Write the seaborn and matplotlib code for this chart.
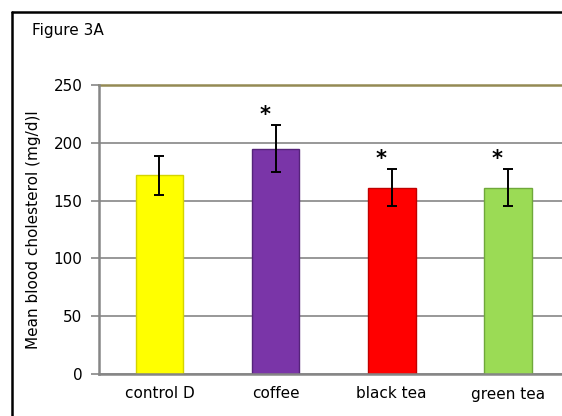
import matplotlib
matplotlib.use("Agg")
import matplotlib.pyplot as plt
import seaborn as sns
import pandas as pd
from matplotlib.lines import Line2D

categories = ["control D", "coffee", "black tea", "green tea"]
means = [172, 195, 161, 161]
errors = [17, 20, 16, 16]
significant = [False, True, True, True]
colors = ["#FFFF00", "#7A35A8", "#FF0000", "#9BDB55"]
edge_colors = ["#D4D400", "#55237A", "#C00000", "#6FA83A"]
yticks = [0, 50, 100, 150, 200, 250]

sns.set_theme(style="white", rc={"ytick.left": True, "text.color": "black",
                                 "axes.labelcolor": "black", "xtick.color": "black",
                                 "ytick.color": "black"})
plt.rcParams["font.family"] = ["DejaVu Sans"]

df = pd.DataFrame({"group": categories, "value": means})

W, H = 562, 416
fig = plt.figure(figsize=(W / 100, H / 100), dpi=100)
fig.patch.set_facecolor("white")

# outer frame: only left and top edges fall inside the picture
fig.add_artist(Line2D([11.5 / W, 11.5 / W], [0, 1 - 11.5 / H], transform=fig.transFigure,
                      color="black", linewidth=1.8))
fig.add_artist(Line2D([11.5 / W, 1.0], [1 - 11.5 / H, 1 - 11.5 / H], transform=fig.transFigure,
                      color="black", linewidth=1.8))
fig.text(32 / W, 1 - 30 / H, "Figure 3A", fontsize=11, va="center", ha="left", color="black")

ax = fig.add_axes([99 / W, 1 - 374 / H, 1 - 99 / W, (374 - 85) / H])

sns.barplot(data=df, x="group", y="value", hue="group", palette=colors, legend=False,
            width=0.41, saturation=1, ax=ax, zorder=3)
for patch, ec in zip(ax.patches, edge_colors):
    patch.set_edgecolor(ec)
    patch.set_linewidth(1.0)

ax.errorbar(range(len(categories)), means, yerr=errors, fmt="none", ecolor="black",
            elinewidth=1.4, capsize=3.8, capthick=1.4, zorder=4)

for i, (m, e, s) in enumerate(zip(means, errors, significant)):
    if s:
        ax.annotate("*", xy=(i, m + e), xytext=(-7.5, 7.5), textcoords="offset points",
                    ha="center", va="center", fontsize=15, fontweight="bold",
                    color="black", zorder=5)

ax.set_ylim(0, 250)
ax.set_xlim(-0.52, 3.466)
ax.set_yticks(yticks)
ax.set_yticklabels([str(t) for t in yticks], fontsize=11)
ax.tick_params(axis="x", labelsize=11, length=0, pad=9, labelcolor="black")
ax.tick_params(axis="y", which="major", left=True, length=6, width=1.2, color="#868686",
               direction="out", pad=6, labelcolor="black")
ax.set_xlabel("")
ax.set_ylabel("Mean blood cholesterol (mg/d)l", fontsize=11, labelpad=9, color="black")

ax.set_axisbelow(True)
ax.yaxis.grid(True, color="#868686", linewidth=1.2)
ax.spines["right"].set_visible(False)
ax.spines["top"].set_color("#948A54")
ax.spines["top"].set_linewidth(1.8)
for side in ["left", "bottom"]:
    ax.spines[side].set_color("#868686")
    ax.spines[side].set_linewidth(1.8)
    ax.spines[side].set_zorder(5)
ax.patch.set_alpha(0)

fig.savefig("out.png", dpi=100, facecolor="white")
